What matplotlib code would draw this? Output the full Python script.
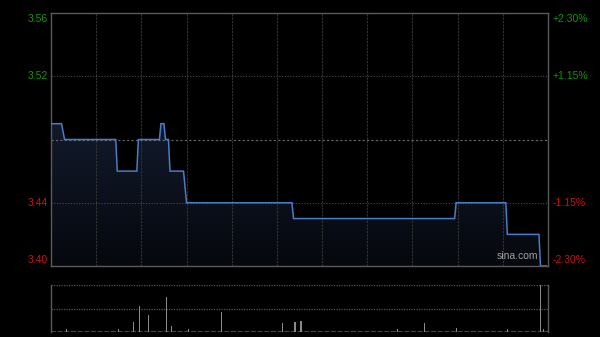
import numpy as np
import matplotlib
matplotlib.use('Agg')
import matplotlib.pyplot as plt
from matplotlib.colors import LinearSegmentedColormap
from matplotlib.transforms import blended_transform_factory

plt.rcParams['font.family'] = ['Liberation Sans', 'DejaVu Sans']

# ---- data ----
minutes = [0, 7, 9, 43, 44, 57, 58, 72, 73, 75, 76, 78, 79, 88, 90, 160, 161,
           268, 269, 302, 303, 324, 325, 329]
prices = [3.49, 3.49, 3.48, 3.48, 3.46, 3.46, 3.48, 3.48, 3.49, 3.49, 3.48, 3.48,
          3.46, 3.46, 3.44, 3.44, 3.43, 3.43, 3.44, 3.44, 3.42, 3.42, 3.40, 3.40]

vol_minutes = [0, 10, 45, 55, 59, 65, 77, 80, 91, 113, 154, 162, 166, 230, 248,
               269, 303, 325, 327]
volumes = [20, 27, 30, 100, 260, 170, 347, 63, 30, 197, 93, 103, 110, 30, 93,
           37, 30, 470, 30]

prev_close = 3.48
left_ticks = [3.56, 3.52, 3.44, 3.40]
left_labels = ['3.56', '3.52', '3.44', '3.40']
right_labels = ['+2.30%', '+1.15%', '-1.15%', '-2.30%']
label_colors = ['#0a9a0a', '#0a9a0a', '#d01010', '#d01010']
label_shift_up_px = [-6, 0, 0, 6]

W, H = 600, 337
fig = plt.figure(figsize=(6, 3.37), dpi=100, facecolor='black')

ax = fig.add_axes([51 / W, 1 - 266 / H, 497 / W, 253 / H], facecolor='black')
axv = fig.add_axes([51 / W, 1 - 332 / H, 497 / W, 47 / H], facecolor='black')

ax.set_xlim(0, 330)
ax.set_ylim(3.40, 3.56)

# gradient fill under the line
cmap = LinearSegmentedColormap.from_list('g', [(0.02, 0.03, 0.05), (0.07, 0.10, 0.17)])
grad = np.linspace(0, 1, 256).reshape(-1, 1)
im = ax.imshow(grad, cmap=cmap, aspect='auto', origin='lower',
               extent=[0, 330, 3.40, max(prices)], zorder=1)
poly = ax.fill_between(minutes, prices, 3.40, color='none', lw=0)
path = poly.get_paths()[0]
im.set_clip_path(path, transform=ax.transData)

# grid
for m in range(30, 330, 30):
    ax.axvline(m, color='#333333', lw=0.8, ls=(0, (2, 1)), zorder=2)
for y in [3.52, 3.44]:
    ax.axhline(y, color='#4a4a4a', lw=0.8, ls=(0, (1, 1.5)), zorder=2)
ax.axhline(prev_close, color='#6a6a6a', lw=0.8, ls=(0, (2, 2)), zorder=2)

ax.plot(minutes, prices, color='#4a7cc8', lw=1.1, zorder=3, solid_joinstyle='miter')

for s in ax.spines.values():
    s.set_color('#5a5a5a')
    s.set_linewidth(1.0)
ax.set_xticks([])
ax.set_yticks([])

tl = blended_transform_factory(ax.transAxes, ax.transData)
for y, lab, rlab, c, off in zip(left_ticks, left_labels, right_labels, label_colors, label_shift_up_px):
    ax.annotate(lab, xy=(0, y), xycoords=tl, xytext=(-3 * 0.72, off * 0.72),
                textcoords='offset points', ha='right', va='center',
                color=c, fontsize=7.5, annotation_clip=False)
    ax.annotate(rlab, xy=(1, y), xycoords=tl, xytext=(5 * 0.72, off * 0.72),
                textcoords='offset points', ha='left', va='center',
                color=c, fontsize=7.5, annotation_clip=False)

ax.text(0.98, 0.02, 'sina.com', transform=ax.transAxes, ha='right', va='bottom',
        color='#a0a0a0', fontsize=7.5, zorder=5)

# volume panel
vmax = max(volumes)
axv.set_xlim(0, 330)
axv.set_ylim(0, vmax)
for y in [vmax, vmax / 2]:
    axv.axhline(y, color='#555555', lw=0.9, ls=(0, (1, 1)), zorder=1)
axv.axhline(0, color='#555555', lw=1.2, ls=(0, (3, 1)), zorder=1)
axv.bar(vol_minutes, volumes, width=0.7, color='#8a8a8a', zorder=2)
for k in ['top', 'bottom']:
    axv.spines[k].set_visible(False)
for k in ['left', 'right']:
    axv.spines[k].set_color('#5a5a5a')
    axv.spines[k].set_linewidth(1.0)
axv.set_xticks([])
axv.set_yticks([])

fig.savefig('out.png', dpi=100, facecolor='black')
